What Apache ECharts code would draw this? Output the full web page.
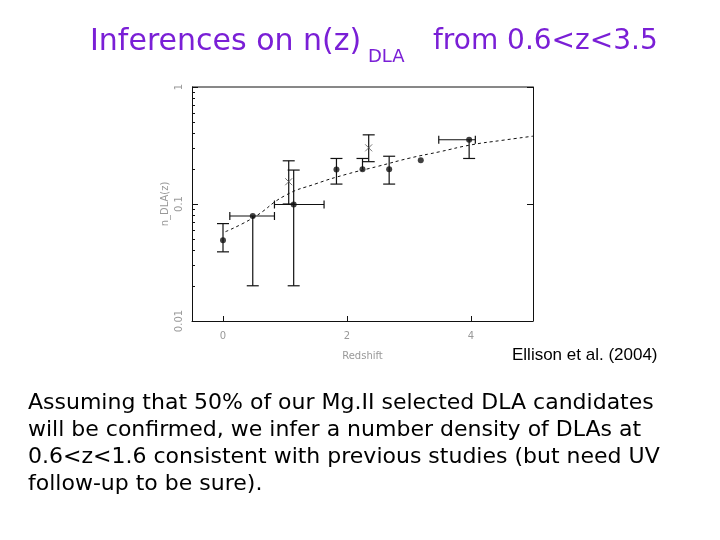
<!DOCTYPE html>
<html><head><meta charset="utf-8">
<script src="https://cdn.jsdelivr.net/npm/echarts@6/dist/echarts.min.js"></script>
<style>body{margin:0;background:#fff}#c{width:720px;height:540px}</style>
</head><body><div id="c"></div>
<script>
// data points: [z, n, yLow, yHigh, xLow, xHigh] (null = no bar)
const dotPoints = [
  [0.0, 0.049, 0.039, 0.068, null, null],
  [0.48, 0.079, 0.02, null, 0.11, 0.83],
  [1.14, 0.099, 0.02, 0.195, 0.83, 1.63],
  [1.83, 0.197, 0.148, 0.245, null, null],
  [2.25, 0.198, null, 0.245, null, null],
  [2.68, 0.198, 0.148, 0.256, null, null],
  [3.19, 0.237, null, null, null, null],
  [3.97, 0.354, 0.245, null, 3.48, 4.07]
];
const crossPoints = [
  [1.06, 0.155, 0.1, 0.234],
  [2.35, 0.302, 0.23, 0.39]
];
// fitted curve
const fitZ = [0.04, 0.5, 1.0, 1.5, 2.0, 2.5, 3.0, 3.5, 4.0, 4.5, 5.0];
const fitN = [0.058, 0.077, 0.118, 0.149, 0.18, 0.21, 0.246, 0.28, 0.32, 0.35, 0.38];
const yTicks = ['1', '0.1', '0.01'];

const chart = echarts.init(document.getElementById('c'));
const ink = '#111';

function errBars(params, api) {
  const x = api.value(0), y = api.value(1);
  const lo = api.value(2), hi = api.value(3), xl = api.value(4), xh = api.value(5);
  const kids = [];
  const c = api.coord([x, y]);
  const cap = 6;
  const st = {stroke: ink, lineWidth: 1.2};
  if (!isNaN(lo) || !isNaN(hi)) {
    const top = api.coord([x, isNaN(hi) ? y : hi]);
    const bot = api.coord([x, isNaN(lo) ? y : lo]);
    kids.push({type: 'line', shape: {x1: c[0], y1: top[1], x2: c[0], y2: bot[1]}, style: st});
    if (!isNaN(hi)) kids.push({type: 'line', shape: {x1: c[0] - cap, y1: top[1], x2: c[0] + cap, y2: top[1]}, style: st});
    if (!isNaN(lo)) kids.push({type: 'line', shape: {x1: c[0] - cap, y1: bot[1], x2: c[0] + cap, y2: bot[1]}, style: st});
  }
  if (!isNaN(xl)) {
    const l = api.coord([xl, y]), r = api.coord([xh, y]);
    kids.push({type: 'line', shape: {x1: l[0], y1: c[1], x2: r[0], y2: c[1]}, style: st});
    kids.push({type: 'line', shape: {x1: l[0], y1: c[1] - 4, x2: l[0], y2: c[1] + 4}, style: st});
    kids.push({type: 'line', shape: {x1: r[0], y1: c[1] - 4, x2: r[0], y2: c[1] + 4}, style: st});
  }
  return {type: 'group', children: kids};
}

const axisText = {color: '#999', fontFamily: 'DejaVu Sans', fontSize: 10};

chart.setOption({
  animation: false,
  grid: {left: 192, right: 187, top: 87, bottom: 219},
  xAxis: {
    type: 'value', min: -0.5, max: 5,
    axisLine: {onZero: false, lineStyle: {color: ink}},
    axisLabel: Object.assign({customValues: [0, 2, 4], margin: 10}, axisText),
    axisTick: {inside: true, length: 5, customValues: [0, 2, 4], lineStyle: {color: ink}},
    splitLine: {show: false},
    name: 'Redshift', nameLocation: 'middle', nameGap: 30, nameTextStyle: axisText
  },
  yAxis: [{
    type: 'log', min: 0.01, max: 1, logBase: 10,
    axisLine: {onZero: false, lineStyle: {color: ink}},
    axisTick: {inside: true, length: 6, lineStyle: {color: ink}},
    minorTick: {show: true, splitNumber: 9, length: 3, lineStyle: {color: ink}},
    axisLabel: Object.assign({rotate: 90, margin: 8, formatter: v => v >= 1 ? yTicks[0] : v >= 0.1 ? yTicks[1] : yTicks[2]}, axisText),
    splitLine: {show: false},
    name: 'n_DLA(z)', nameLocation: 'middle', nameGap: 22, nameRotate: 90, nameTextStyle: axisText
  }, {
    type: 'log', min: 0.01, max: 1, position: 'right',
    axisLine: {show: true, onZero: false, lineStyle: {color: ink}},
    axisTick: {inside: true, length: 6, lineStyle: {color: ink}},
    axisLabel: {show: false}, splitLine: {show: false}
  }],
  graphic: [
    {type: 'line', shape: {x1: 192, y1: 87, x2: 533, y2: 87}, style: {stroke: ink, lineWidth: 1}},
    {type: 'text', left: 90, top: 27, style: {text: 'Inferences on n(z)', font: '30px "DejaVu Sans"', fill: '#7a1fd6'}},
    {type: 'text', left: 368, top: 48, style: {text: 'DLA', font: '18px "DejaVu Sans"', fill: '#7a1fd6'}},
    {type: 'text', left: 433, top: 28, style: {text: 'from 0.6<z<3.5', font: '28px "DejaVu Sans"', fill: '#7a1fd6'}},
    {type: 'text', left: 512, top: 347, style: {text: 'Ellison et al. (2004)', font: '17px "Liberation Sans"', fill: '#000'}},
    {type: 'text', left: 28, top: 390, style: {
      text: 'Assuming that 50% of our Mg.II selected DLA candidates\nwill be confirmed, we infer a number density of DLAs at\n0.6<z<1.6 consistent with previous studies (but need UV\nfollow-up to be sure).',
      font: '22px "DejaVu Sans"', lineHeight: 27, fill: '#000'}}
  ],
  series: [
    {type: 'line', data: fitZ.map((z, i) => [z, fitN[i]]), smooth: true, symbol: 'none',
     lineStyle: {color: ink, width: 1, type: [3, 3]}},
    {type: 'custom', renderItem: errBars, data: dotPoints.map(p => p.map(v => v === null ? NaN : v)), z: 3},
    {type: 'custom', renderItem: errBars, data: crossPoints.map(p => [p[0], p[1], p[2], p[3], NaN, NaN]), z: 3},
    {type: 'scatter', data: dotPoints.map(p => [p[0], p[1]]), symbol: 'circle', symbolSize: 6, itemStyle: {color: ink}, z: 4},
    {type: 'scatter', data: crossPoints.map(p => [p[0], p[1]]), symbol: 'path://M0,0L10,10M10,0L0,10', symbolSize: 7,
     itemStyle: {color: 'none', borderColor: '#555', borderWidth: 1}, z: 4}
  ]
});
</script></body></html>
